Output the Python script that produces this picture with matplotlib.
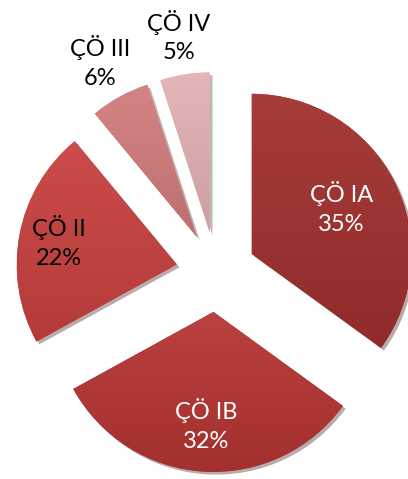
import numpy as np
import matplotlib.pyplot as plt
from matplotlib import patheffects as pe
from matplotlib.colors import to_rgb

labels = ['ÇÖ IA', 'ÇÖ IB', 'ÇÖ II', 'ÇÖ III', 'ÇÖ IV']
shares = [35, 32, 22, 6, 5]
colors = ['#A0302E', '#B53533', '#C8413F', '#D27C7D', '#E3B1B2']
text_colors = ['white', 'white', 'black', 'black', 'black']
label_dist = [0.63, 0.71, 0.75, 1.25, 1.24]

plt.rcParams['font.family'] = ['Lato', 'DejaVu Sans']

fig = plt.figure(figsize=(4.08, 4.79), dpi=100)
ax = fig.add_axes([0, 0, 1, 1])

wedges, _ = ax.pie(shares, startangle=90, counterclock=False,
                   explode=[0.25] * len(shares), colors=colors,
                   wedgeprops=dict(linewidth=0))

# soft shading + shadow, roughly like the office "bevel" look
for w, c in zip(wedges, colors):
    w.set_path_effects([pe.SimplePatchShadow(offset=(2, -2), alpha=0.35),
                        pe.Normal()])
    base = np.array(to_rgb(c))
    t = np.linspace(0, 1, 64)[:, None]
    top = base + (1 - base) * 0.06
    bottom = base * 0.90
    grad = (top * (1 - t) + bottom * t)[:, None, :]
    bb = w.get_path().get_extents()
    im = ax.imshow(grad, extent=[bb.x0, bb.x1, bb.y0, bb.y1], origin='upper',
                   aspect='auto', zorder=w.get_zorder() + 0.1, interpolation='bilinear')
    im.set_clip_path(w)

for w, lab, val, tc, d in zip(wedges, labels, shares, text_colors, label_dist):
    ang = np.deg2rad((w.theta1 + w.theta2) / 2)
    cx, cy = w.center
    ax.text(cx + d * np.cos(ang), cy + d * np.sin(ang), f'{lab}\n{val}%',
            ha='center', va='center', color=tc, fontsize=17, linespacing=1.45,
            zorder=5)

ax.set_xlim(-1.35, 1.2)
ax.set_ylim(-1.294, 1.7)
ax.set_aspect('equal')
ax.axis('off')

fig.savefig('out.png', dpi=100)
